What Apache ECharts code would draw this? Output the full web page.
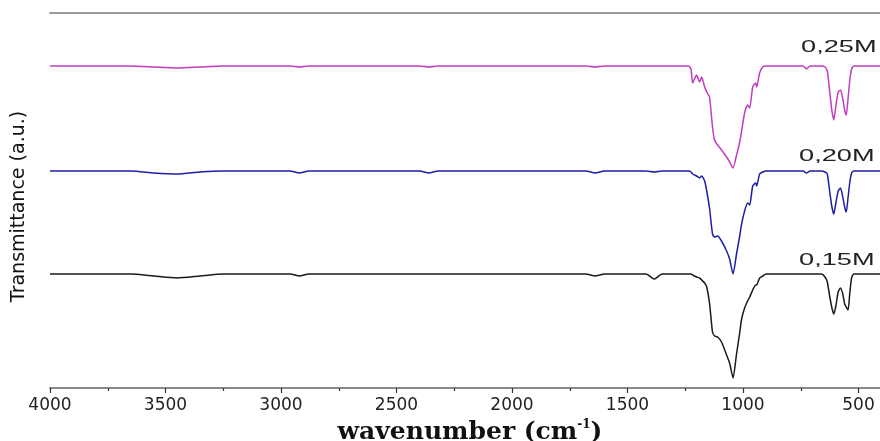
<!DOCTYPE html>
<html>
<head>
<meta charset="utf-8">
<script src="https://cdn.jsdelivr.net/npm/echarts@6/dist/echarts.min.js"></script>
<style>
  html, body { margin: 0; padding: 0; background: #fff; }
  #chartImg { width: 880px; height: 441px; }
</style>
</head>
<body>
<div id="chartImg"></div>
<script>
// wavenumber (cm-1), shared by the three spectra
var wavenumbers = [4000, 3800, 3650, 3550, 3450, 3350, 3250, 3000, 2960, 2920, 2880, 2600, 2400, 2360, 2320,
  1800, 1680, 1640, 1600, 1420, 1384, 1350, 1260,
  1235, 1225, 1218, 1201, 1188, 1179, 1166, 1157, 1145, 1132, 1123, 1110, 1093, 1071, 1058, 1043,
  1028, 1015, 1006, 993, 980, 971, 958, 945, 941, 928, 915, 900,
  780, 740, 725, 710, 660,
  645, 635, 625, 615, 607, 598, 588, 578, 568, 560, 553, 545, 538, 530, 520, 480, 400];

// transmittance (a.u.), baseline 110
var t025 = [110, 110, 110, 109, 108, 109, 110, 110, 110, 109, 110, 110, 110, 109, 110,
  110, 110, 109, 110, 110, 110, 110, 110,
  110, 107, 93, 101, 94, 99, 89, 84, 79, 49, 36, 31, 26, 19, 14, 8,
  21, 33, 45, 63, 71, 68, 89, 93, 89, 103, 109, 110,
  110, 110, 107, 110, 110,
  109, 105, 85, 65, 56, 70, 84, 86, 77, 66, 61, 78, 95, 107, 110, 110, 110];
var t020 = [110, 110, 110, 108, 107, 109, 110, 110, 110, 108, 110, 110, 110, 108, 110,
  110, 110, 108, 110, 110, 109, 110, 110,
  110, 109, 107, 105, 103, 105, 100, 90, 73, 47, 44, 45, 40, 30, 22, 7,
  27, 44, 57, 70, 78, 76, 95, 98, 95, 107, 109, 110,
  110, 110, 108, 110, 110,
  109, 107, 90, 74, 67, 78, 90, 93, 84, 74, 69, 84, 98, 108, 110, 110, 110];
var t015 = [110, 110, 110, 108, 106, 108, 110, 110, 110, 108, 110, 110, 110, 110, 110,
  110, 110, 108, 110, 110, 105, 110, 110,
  110, 110, 109, 107, 106, 104, 101, 97, 81, 52, 48, 47, 42, 29, 21, 6,
  30, 50, 65, 76, 83, 87, 94, 99, 99, 106, 108, 110,
  110, 110, 110, 110, 110,
  107, 102, 88, 76, 70, 78, 92, 96, 90, 80, 77, 74, 90, 106, 110, 110, 110];

var seriesNames = ['0,25M', '0,20M', '0,15M'];
var offsets = [212, 107, 4];       // vertical stacking of the curves
var colors = ['#c23cc2', '#1e1ea6', '#1a1a1a'];
var xTicks = [0, 4000, 500];       // min, max, interval

function pairs(vals, off) {
  return wavenumbers.map(function (w, i) { return [w, vals[i] + off]; });
}

var myChart = echarts.init(document.getElementById('chartImg'));
var spectra = [t025, t020, t015];

var option = {
  animation: false,
  backgroundColor: '#fff',
  grid: { left: 50, right: -94, top: 13, bottom: 53, outerBoundsMode: 'none', containLabel: false },
  xAxis: [
    {
      type: 'value',
      min: xTicks[0], max: xTicks[1], interval: xTicks[2],
      inverse: true,
      position: 'bottom',
      axisLine: { lineStyle: { color: '#8a8a8a', width: 2 } },
      axisTick: { length: 5, lineStyle: { color: '#333', width: 1.2 } },
      minorTick: { show: true, splitNumber: 2, length: 3, lineStyle: { color: '#333', width: 1.2 } },
      splitLine: { show: false },
      axisLabel: {
        fontSize: 17, fontFamily: 'DejaVu Sans', color: '#222', margin: 9,
        formatter: function (v) { return String(v); }
      },
      name: '{a|wavenumber (cm}{s|-1}{a|)}',
      nameLocation: 'middle',
      nameGap: 27,
      nameTextStyle: {
        padding: [0, 84, 0, 0],
        rich: {
          a: { fontFamily: 'DejaVu Serif', fontWeight: 'bold', fontSize: 25, color: '#111', lineHeight: 27 },
          s: { fontFamily: 'DejaVu Serif', fontWeight: 'bold', fontSize: 12, color: '#111', lineHeight: 12, verticalAlign: 'top' }
        }
      }
    },
    {
      type: 'value',
      min: xTicks[0], max: xTicks[1],
      inverse: true,
      position: 'top',
      axisLine: { lineStyle: { color: '#999', width: 2 } },
      axisTick: { show: false },
      axisLabel: { show: false },
      splitLine: { show: false }
    }
  ],
  yAxis: {
    type: 'value',
    min: 0, max: 375,
    axisLine: { show: true, lineStyle: { color: '#111', width: 2 } },
    axisTick: { show: false },
    axisLabel: { show: false },
    splitLine: { show: false },
    name: 'Transmittance (a.u.)',
    nameLocation: 'middle',
    nameGap: 21,
    nameTextStyle: {
      fontFamily: "'Liberation Sans Narrow', 'DejaVu Sans'",
      fontSize: 19, color: '#111', padding: [0, 12, 0, 0]
    }
  },
  series: spectra.map(function (vals, k) {
    return {
      name: seriesNames[k],
      type: 'line',
      xAxisIndex: 0,
      showSymbol: false,
      smooth: 0.2,
      lineStyle: { color: colors[k], width: 1.5 },
      data: pairs(vals, offsets[k])
    };
  }),
  graphic: [
    { type: 'text', x: 801, y: 47, scaleX: 1.6,
      style: { text: seriesNames[0], font: '17px "Liberation Sans"', fill: '#222', verticalAlign: 'middle', textVerticalAlign: 'middle' } },
    { type: 'text', x: 799, y: 156, scaleX: 1.6,
      style: { text: seriesNames[1], font: '17px "Liberation Sans"', fill: '#222', verticalAlign: 'middle', textVerticalAlign: 'middle' } },
    { type: 'text', x: 799, y: 260, scaleX: 1.6,
      style: { text: seriesNames[2], font: '17px "Liberation Sans"', fill: '#222', verticalAlign: 'middle', textVerticalAlign: 'middle' } }
  ]
};
myChart.setOption(option);
</script>
</body>
</html>
